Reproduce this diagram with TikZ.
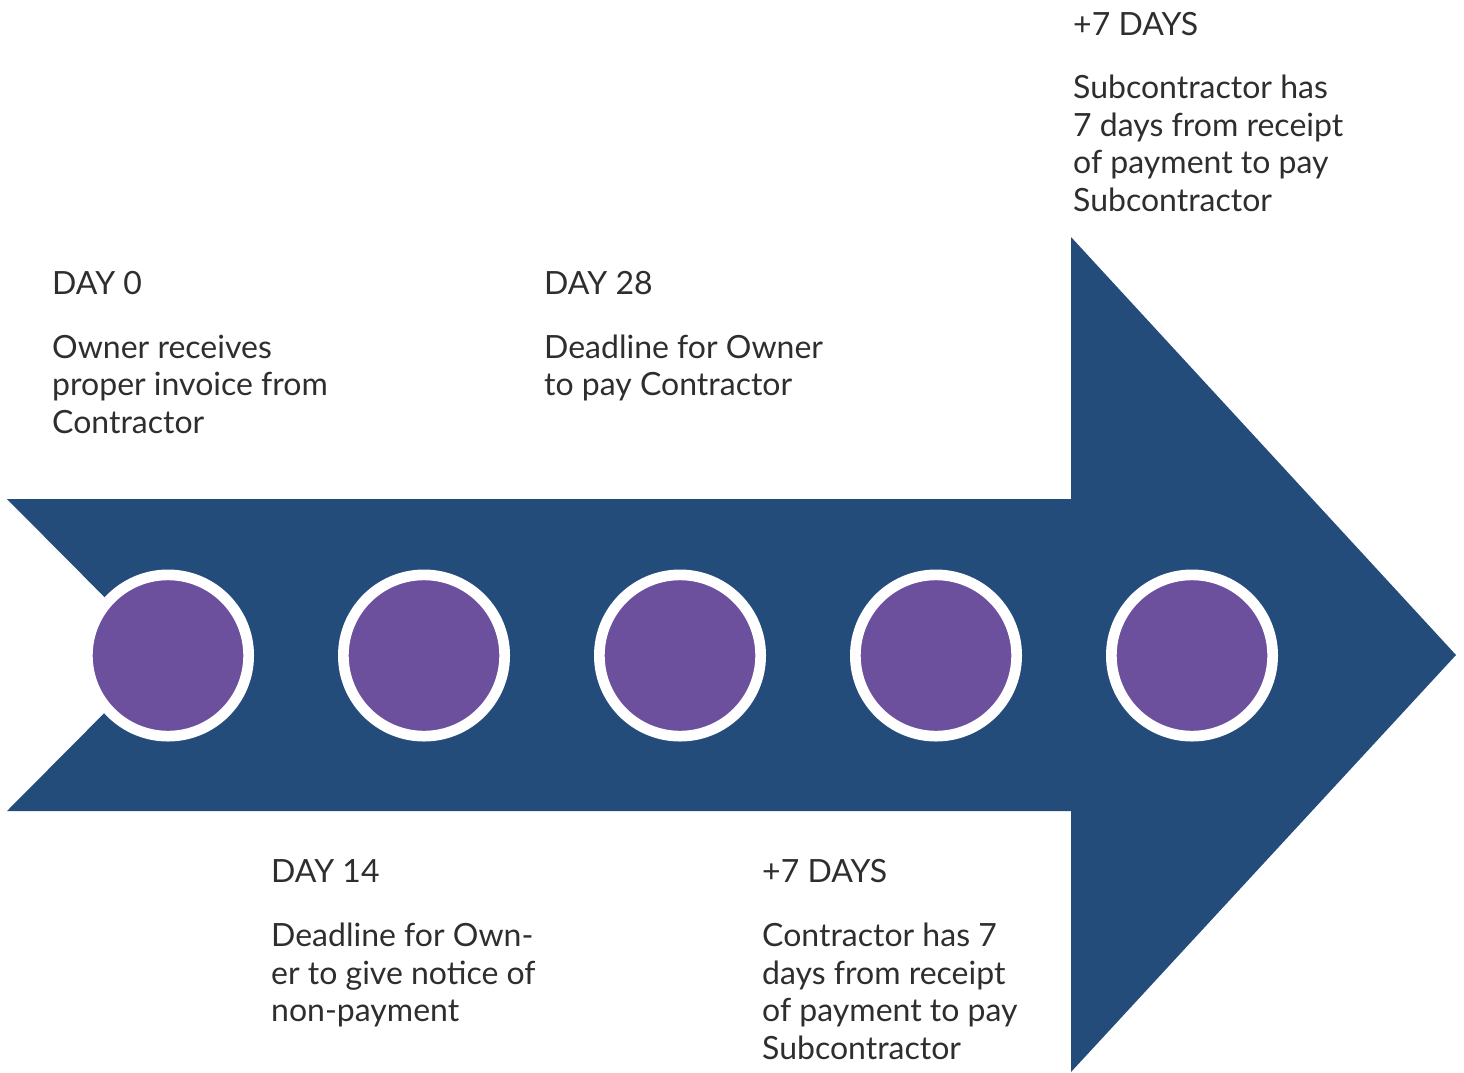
\documentclass[tikz,border=0pt]{standalone}
\usepackage{fontspec}
\setmainfont{Lato}
\definecolor{arrowblue}{HTML}{244C7B}
\definecolor{dotpurple}{HTML}{6C509E}
\definecolor{txtgray}{HTML}{2E2E2E}
\newcommand{\blocktext}[1]{\parbox[t]{420pt}{\fontsize{32}{37.5}\selectfont\raggedright #1}}
\tikzset{
  dot/.style={circle, fill=dotpurple, draw=white, line width=10.7pt, minimum size=161.3pt, inner sep=0pt},
  headtxt/.style={anchor=base west, inner sep=0pt, text=txtgray, font=\fontsize{32}{37.5}\selectfont},
  bodytxt/.style={anchor=base west, inner sep=0pt, text=txtgray}
}
\begin{document}
\begin{tikzpicture}[x=1pt,y=-1pt]
\useasboundingbox (0,0) rectangle (1464,1072);
\fill[arrowblue] (7,499) -- (1071,499) -- (1071,237) -- (1456,655) -- (1071,1072) -- (1071,811) -- (7,811) -- (162,655) -- cycle;
\foreach \i/\x in {1/168,2/424,3/680,4/936,5/1192}{
  \node[dot] (c\i) at (\x,655.5) {};
}
% DAY 0
\node[headtxt] (h1) at (52,294) {DAY 0};
\node[bodytxt] (b1) at (52,358) {\blocktext{Owner receives\\proper invoice from\\Contractor}};
% DAY 28
\node[headtxt] (h3) at (544,294) {DAY 28};
\node[bodytxt] (b3) at (544,358) {\blocktext{Deadline for Owner\\to pay Contractor}};
% DAY 14
\node[headtxt] (h2) at (271,882) {DAY 14};
\node[bodytxt] (b2) at (271,946.5) {\blocktext{Deadline for Own-\\er to give notice of\\non-payment}};
% +7 DAYS bottom
\node[headtxt] (h4) at (762,882) {+7 DAYS};
\node[bodytxt] (b4) at (762,946.5) {\blocktext{Contractor has 7\\days from receipt\\of payment to pay\\Subcontractor}};
% +7 DAYS top
\node[headtxt] (h5) at (1073,35) {+7 DAYS};
\node[bodytxt] (b5) at (1073,98.5) {\blocktext{Subcontractor has\\7 days from receipt\\of payment to pay\\Subcontractor}};
\end{tikzpicture}
\end{document}
